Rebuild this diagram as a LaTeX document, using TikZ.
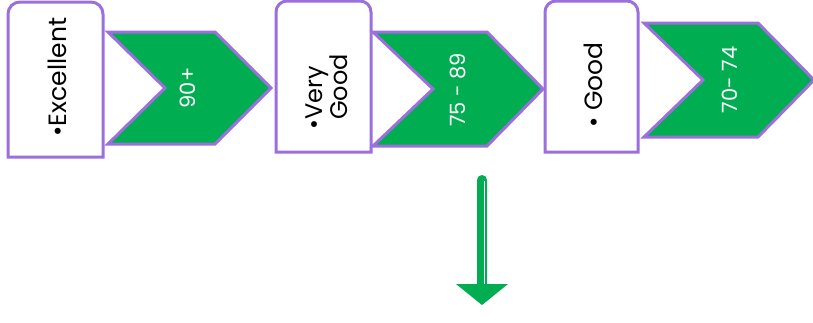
\documentclass[tikz,border=0pt]{standalone}
\usepackage{fontspec}
\setmainfont{Poppins}
\definecolor{vio}{RGB}{155,112,220}
\definecolor{grn}{RGB}{0,173,80}
\tikzset{
  lbox/.style={draw=vio, line width=3pt, fill=white},
  chev/.style={draw=vio, line width=3pt, fill=grn, line join=miter},
  ltxt/.style={rotate=90, font=\fontsize{25}{27}\selectfont, text=black, inner sep=0pt},
  ntxt/.style={rotate=90, font=\fontsize{21}{24}\selectfont, text=white, inner sep=0pt}
}
\begin{document}
\begin{tikzpicture}[x=1pt,y=-1pt]
\useasboundingbox (0,0) rectangle (813,322);
% box 1
\draw[lbox] (8,157) -- (8,14) arc[start angle=180,end angle=270,radius=12] -- (91,2) arc[start angle=270,end angle=360,radius=12] -- (103,157) -- cycle;
\node[ltxt] (t1) at (57,77) {•Excellent};
% chevron 1
\draw[chev] (108,32) -- (215,32) -- (271,88) -- (215,144) -- (108,144) -- (165,88) -- cycle;
\node[ntxt] (n1) at (188,88) {90+};
% box 2
\draw[lbox] (276,152) -- (276,12) arc[start angle=180,end angle=270,radius=11] -- (360,1) arc[start angle=270,end angle=360,radius=11] -- (371,152) -- cycle;
\node[ltxt, align=left, font=\fontsize{24}{25}\selectfont] (t2) at (327,87) {\llap{•}Very\\Good};
% chevron 2
\draw[chev] (373,32) -- (487,32) -- (543,89) -- (487,146) -- (373,146) -- (433,89) -- cycle;
\node[ntxt] (n2) at (458,90) {75 - 89};
% box 3
\draw[lbox] (545,152) -- (545,12) arc[start angle=180,end angle=270,radius=11] -- (627,1) arc[start angle=270,end angle=360,radius=11] -- (638,152) -- cycle;
\node[ltxt] (t3) at (593,85) {• Good};
% chevron 3
\draw[chev] (644,23) -- (758,23) -- (814,80) -- (758,137) -- (644,137) -- (703,80) -- cycle;
\node[ntxt] (n3) at (730,80) {70- 74};
% arrow
\coordinate (atop) at (482,180);
\coordinate (abot) at (482,286);
\fill[grn, rounded corners=5pt] (477,175) rectangle (487,292);
\fill[grn] (477,286) rectangle (487,292);
\draw[white, line width=1.6pt] (484.5,181) -- (484.5,287);
\fill[grn] (456,284) -- (508,284) -- (482,305) -- cycle;
\end{tikzpicture}
\end{document}
